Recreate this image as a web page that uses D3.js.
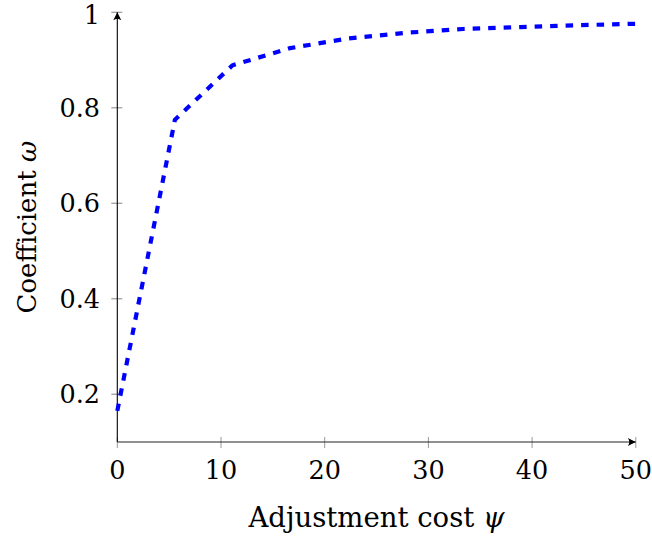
<!DOCTYPE html>
<html>
<head>
<meta charset="utf-8">
<script src="https://cdn.jsdelivr.net/npm/d3@7"></script>
<style>
  html, body { margin: 0; padding: 0; background: #fff; }
  svg { display: block; }
  text { font-family: "DejaVu Serif", "Liberation Serif", serif; fill: #000; }
</style>
</head>
<body>
<svg id="chart" width="652" height="540"></svg>
<script>
// ---- data ----
const psiValues = [0, 5.556, 11.111, 16.667, 22.222, 27.778, 33.333, 38.889, 44.444, 50];
const omegaValues = [0.165, 0.775, 0.889, 0.925, 0.945, 0.957, 0.965, 0.969, 0.973, 0.976];
const xTicks = [0, 10, 20, 30, 40, 50];
const yTicks = [0.2, 0.4, 0.6, 0.8, 1];
const xLabelText = "Adjustment cost ";
const xLabelSymbol = "\u03C8";
const yLabelText = "Coefficient ";
const yLabelSymbol = "\u03C9";

const svg = d3.select("#chart");
const x = d3.scaleLinear().domain([0, 50]).range([117.3, 635.8]);
const y = d3.scaleLinear().domain([0.1, 1]).range([442, 12.3]);

const fontSize = 25.5;

// arrow marker
const defs = svg.append("defs");
defs.append("marker")
  .attr("id", "arrow")
  .attr("viewBox", "-10 -6 12 12")
  .attr("refX", 0).attr("refY", 0)
  .attr("markerWidth", 12).attr("markerHeight", 12)
  .attr("markerUnits", "userSpaceOnUse")
  .attr("orient", "auto")
  .append("path")
  .attr("d", "M0,0 L-8,-4 Q-5,0 -8,4 Z")
  .attr("fill", "#000");

// ticks (crossing the axis)
const tickColor = "#999";
svg.append("g").selectAll("line").data(xTicks).join("line")
  .attr("x1", d => x(d)).attr("x2", d => x(d))
  .attr("y1", y(0.1) - 5).attr("y2", y(0.1) + 6)
  .attr("stroke", tickColor).attr("stroke-width", 1);
svg.append("g").selectAll("line").data(yTicks).join("line")
  .attr("x1", x(0) - 6).attr("x2", x(0) + 5)
  .attr("y1", d => y(d)).attr("y2", d => y(d))
  .attr("stroke", tickColor).attr("stroke-width", 1.2);

// axis lines with arrows
svg.append("line")
  .attr("x1", x(0)).attr("x2", x(50))
  .attr("y1", y(0.1)).attr("y2", y(0.1))
  .attr("stroke", "#222").attr("stroke-width", 1.1)
  .attr("marker-end", "url(#arrow)");
svg.append("line")
  .attr("x1", x(0)).attr("x2", x(0))
  .attr("y1", y(0.1)).attr("y2", y(1))
  .attr("stroke", "#000").attr("stroke-width", 1.1)
  .attr("marker-end", "url(#arrow)");

// tick labels
svg.append("g").selectAll("text").data(xTicks).join("text")
  .attr("x", d => x(d)).attr("y", 479)
  .attr("text-anchor", "middle")
  .attr("font-size", fontSize)
  .text(d => d3.format("d")(d));
svg.append("g").selectAll("text").data(yTicks).join("text")
  .attr("x", 100).attr("y", d => Math.max(y(d), 15))
  .attr("dy", "0.36em")
  .attr("text-anchor", "end")
  .attr("font-size", fontSize)
  .text(d => d === 1 ? "1" : d3.format(".1f")(d));

// axis titles
const xt = svg.append("text")
  .attr("x", (x(0) + x(50)) / 2).attr("y", 527)
  .attr("text-anchor", "middle")
  .attr("font-size", 27.5);
xt.append("tspan").text(xLabelText);
xt.append("tspan").attr("font-style", "italic").text(xLabelSymbol);

const yt = svg.append("text")
  .attr("transform", `translate(36,${(y(0.1) + y(1)) / 2}) rotate(-90)`)
  .attr("text-anchor", "middle")
  .attr("font-size", 26);
yt.append("tspan").text(yLabelText);
yt.append("tspan").attr("font-style", "italic").text(yLabelSymbol);

// the curve
const data = psiValues.map((p, i) => ({ p, w: omegaValues[i] }));
svg.append("path")
  .datum(data)
  .attr("d", d3.line().x(d => x(d.p)).y(d => y(d.w)))
  .attr("fill", "none")
  .attr("stroke", "#0000ff")
  .attr("stroke-width", 4.2)
  .attr("stroke-dasharray", "7.5,8")
  .attr("stroke-linejoin", "round");
</script>
</body>
</html>
